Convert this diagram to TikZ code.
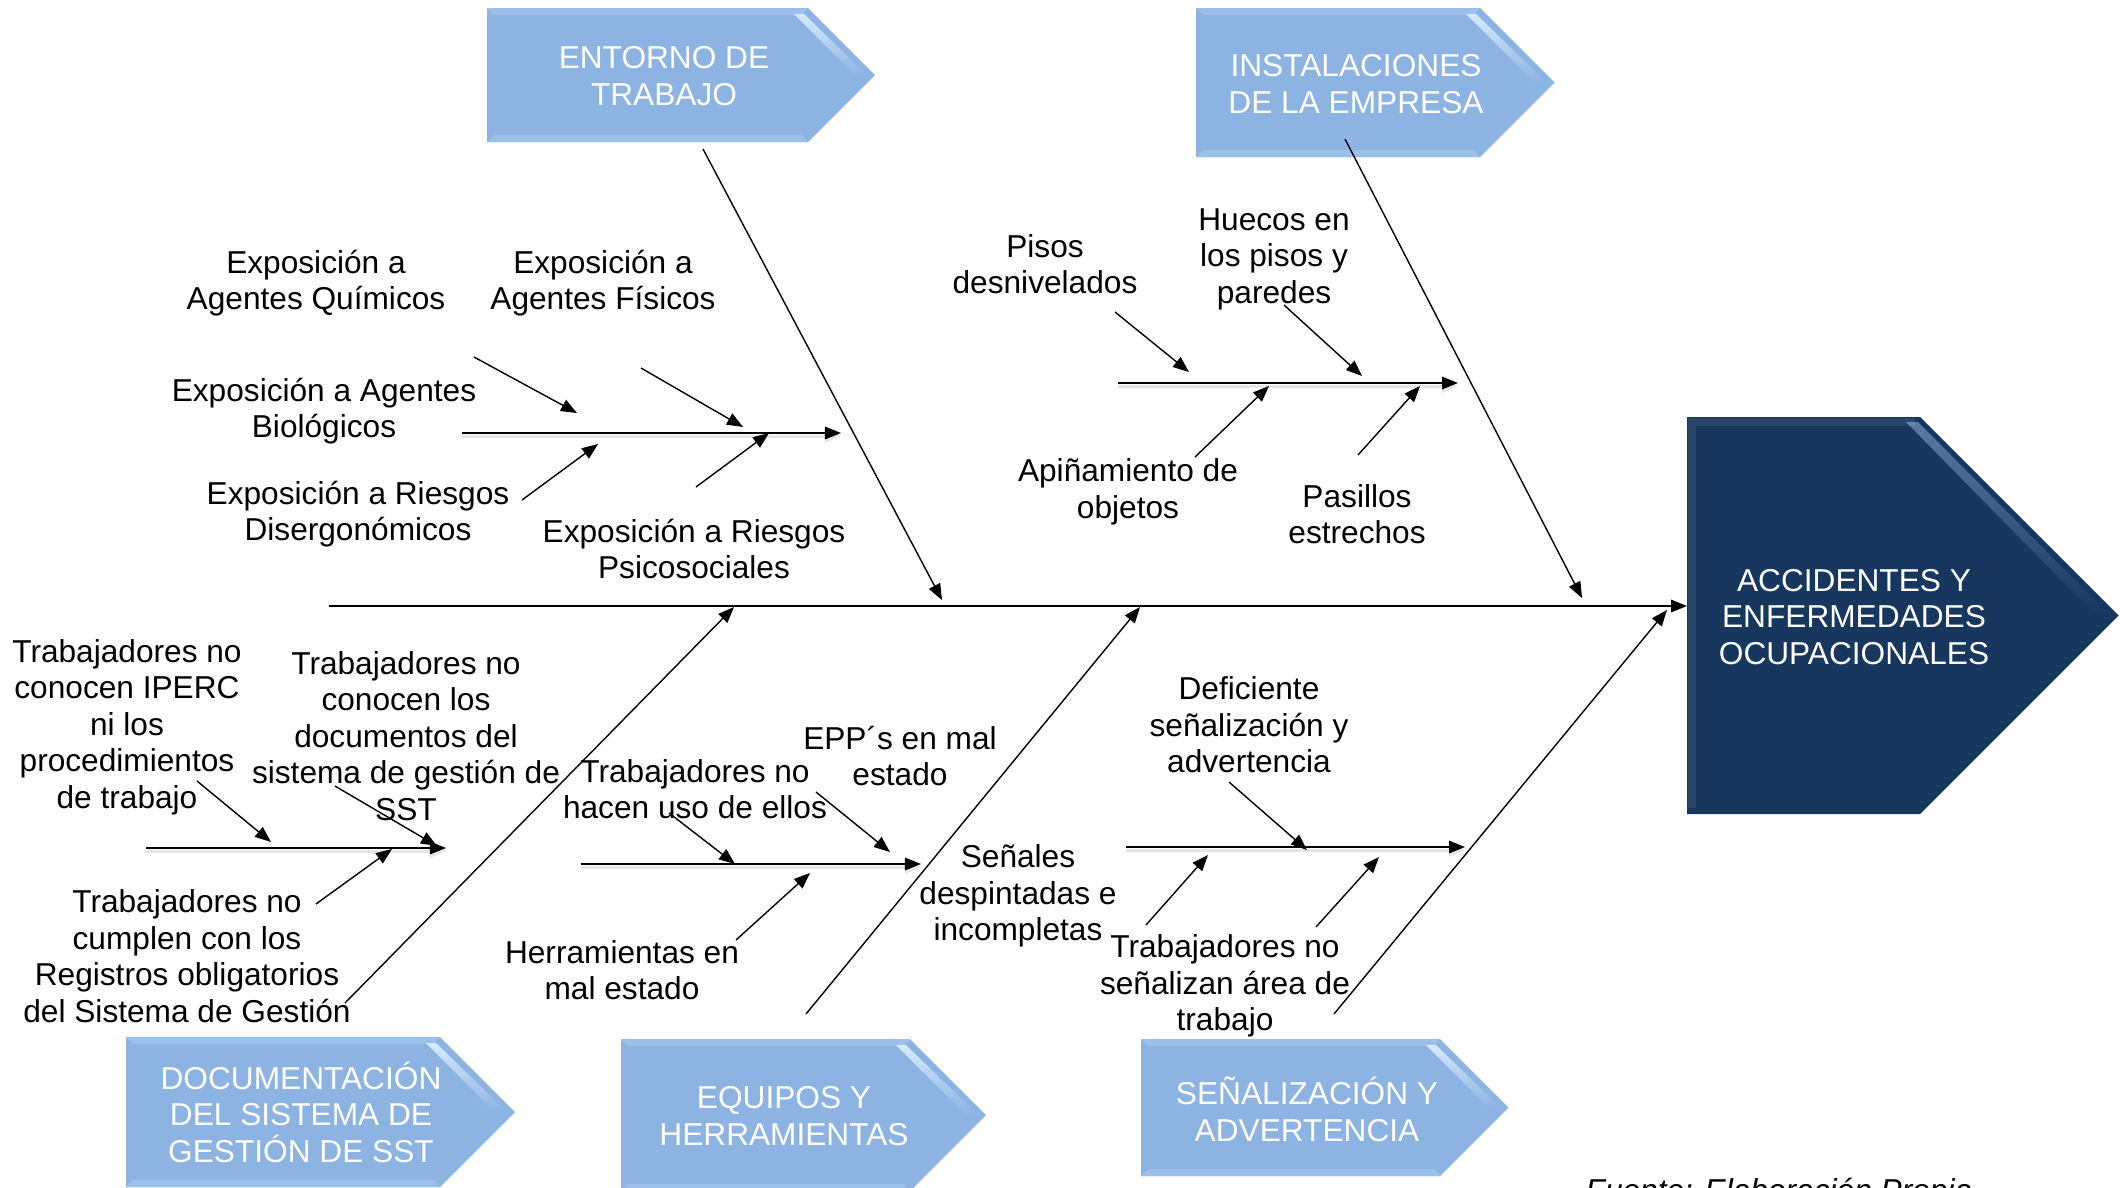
\documentclass[tikz,border=0pt]{standalone}
\usepackage{fontspec}
\setmainfont{Liberation Sans}
\usetikzlibrary{arrows.meta}
\definecolor{catblue}{HTML}{8DB3E2}
\definecolor{catedge}{HTML}{9CC0EA}
\definecolor{catglow}{HTML}{D4ECFC}
\definecolor{effnavy}{HTML}{17375E}
\definecolor{effglow}{HTML}{5A7BA3}
\tikzset{
  every node/.style={font=\fontsize{9}{10.4}\selectfont},
  cause/.style={align=center, inner sep=0pt},
  cattext/.style={align=center, inner sep=0pt, text=white},
  bone/.style={-{Triangle[length=1.6mm,width=1.25mm]}, line width=0.4pt},
  spine/.style={bone, line width=0.45pt,
    preaction={draw=black!10, line width=0.9pt, transform canvas={yshift=-0.9pt}}},
}

\begin{document}
\begin{tikzpicture}[x=0.01cm, y=-0.01cm]
  \useasboundingbox (0,0) rectangle (2120,1187);

  % category arrows: left, end of rectangle, top, bottom
  \foreach \xl/\xr/\yt/\yb in {487/808/8/142, 1196/1480/8/157, 126/440/1037/1187,
                               621/910/1039/1191, 1141/1440/1039/1176} {
    \pgfmathsetmacro{\hh}{(\yb-\yt)/2}
    \pgfmathsetmacro{\px}{\xr+\hh}
    \pgfmathsetmacro{\my}{\yt+\hh}
    \fill[catblue] (\xl,\yt) -- (\xr,\yt) -- (\px,\my) -- (\xr,\yb) -- (\xl,\yb) -- cycle;
    \fill[catedge] (\xl,\yt) -- (\xr,\yt) -- (\xr-6,\yt+7) -- (\xl+7,\yt+7) -- cycle;
    \fill[catedge] (\xl,\yb) -- (\xr,\yb) -- (\xr-6,\yb-7) -- (\xl+7,\yb-7) -- cycle;
    \shade[top color=catglow, bottom color=catblue]
      (\xr-14,\yt+6) -- (\xr-4,\yt+6) -- (\px-8,\my) -- (\px-20,\my) -- cycle;
  }

  % effect
  \fill[effnavy] (1687,417) -- (1920,417) -- (2118.5,615.5) -- (1920,814) -- (1687,814) -- cycle;
  \shade[top color=effglow, bottom color=effnavy]
    (1906,422) -- (1918,422) -- (2110,615.5) -- (2096,615.5) -- cycle;
  \draw[white, opacity=0.08, line width=2pt] (1692,808) -- (1692,422) -- (1915,422);

  \node[cattext] (entorno) at (664,76) {ENTORNO DE\\TRABAJO};
  \node[cattext] (instal) at (1356,84) {INSTALACIONES\\DE LA EMPRESA};
  \node[cattext] (docu) at (301,1112) {DOCUMENTACIÓN\\DEL SISTEMA DE\\GESTIÓN DE SST};
  \node[cattext] (equipos) at (784,1116) {EQUIPOS Y\\HERRAMIENTAS};
  \node[cattext] (senal) at (1307,1109) {SEÑALIZACIÓN Y\\ADVERTENCIA};
  \node[cattext] (efecto) at (1854,617) {ACCIDENTES Y\\ENFERMEDADES\\OCUPACIONALES};

  % spines
  \draw[bone, line width=0.45pt] (329,606) coordinate (main-a) -- (1687,606) coordinate (main-b);
  \foreach \n/\xa/\ya/\xb/\yb in {en/462/433/841/433, in/1118/383/1458/383,
      do/146/848/446/848, eq/581/864/921/864, se/1126/847/1465/847} {
    \coordinate (\n-a) at (\xa,\ya);
    \coordinate (\n-b) at (\xb,\yb);
    \draw[spine] (\n-a) -- (\n-b);
  }

  % bones
  \foreach \n/\xa/\ya/\xb/\yb in {entorno/703/149/942/600, instal/1345/139/1582/598,
      docu/345/1003/734/607, equipos/806/1014/1140/607, senal/1334/1014/1667/610} {
    \coordinate (\n-a) at (\xa,\ya);
    \coordinate (\n-b) at (\xb,\yb);
    \draw[bone] (\n-a) -- (\n-b);
  }

  % causes
  \node[cause] (quimicos) at (316,283) {Exposición a\\Agentes Químicos};
  \node[cause] (fisicos) at (603,283) {Exposición a\\Agentes Físicos};
  \node[cause] (biologicos) at (324,411) {Exposición a Agentes\\Biológicos};
  \node[cause] (disergo) at (358,514) {Exposición a Riesgos\\Disergonómicos};
  \node[cause] (psico) at (694,549) {Exposición a Riesgos\\Psicosociales};

  \node[cause] (pisos) at (1045,264) {Pisos\\desnivelados};
  \node[cause] (huecos) at (1274,259) {Huecos en\\los pisos y\\paredes};
  \node[cause] (apinam) at (1128,492) {Apiñamiento de\\objetos};
  \node[cause] (pasillos) at (1357,514) {Pasillos\\estrechos};

  \node[cause] (iperc) at (127,727) {Trabajadores no\\conocen IPERC\\ni los\\procedimientos\\de trabajo};
  \node[cause] (docsst) at (406,736) {Trabajadores no\\conocen los\\documentos del\\sistema de gestión de\\SST};
  \node[cause] (registros) at (187,956) {Trabajadores no\\cumplen con los\\Registros obligatorios\\del Sistema de Gestión};

  \node[cause] (usoepp) at (695,789) {Trabajadores no\\hacen uso de ellos};
  \node[cause] (eppmal) at (900,756) {EPP´s en mal\\estado};
  \node[cause] (herram) at (622,970) {Herramientas en\\mal estado};

  \node[cause] (deficiente) at (1249,725) {Deficiente\\señalización y\\advertencia};
  \node[cause] (despint) at (1018,896) {Señales\\despintadas e\\incompletas};
  \node[cause] (senalarea) at (1225,986) {Trabajadores no\\señalizan área de\\trabajo};

  % small arrows onto the spines
  \foreach \n/\xa/\ya/\xb/\yb in {quimicos/474/357/577/413, fisicos/641/368/743/427,
      disergo/522/500/598/444, psico/696/487/769/433,
      pisos/1115/312/1189/372, huecos/1284/305/1362/376,
      apinam/1195/457/1269/386, pasillos/1358/455/1420/386,
      iperc/197/781/271/842, docsst/335/786/437/846, registros/316/904/392/849,
      usoepp/669/813/735/864, eppmal/816/792/890/852, herram/736/940/810/873,
      deficiente/1229/782/1307/850, despint/1146/925/1208/855, senalarea/1316/927/1379/857} {
    \coordinate (\n-a) at (\xa,\ya);
    \coordinate (\n-b) at (\xb,\yb);
    \draw[bone] (\n-a) -- (\n-b);
  }

  \node[cause, anchor=base west, font=\fontsize{9}{10.4}\selectfont\itshape] (fuente)
    at (1585,1201) {Fuente: Elaboración Propia};
\end{tikzpicture}
\end{document}
